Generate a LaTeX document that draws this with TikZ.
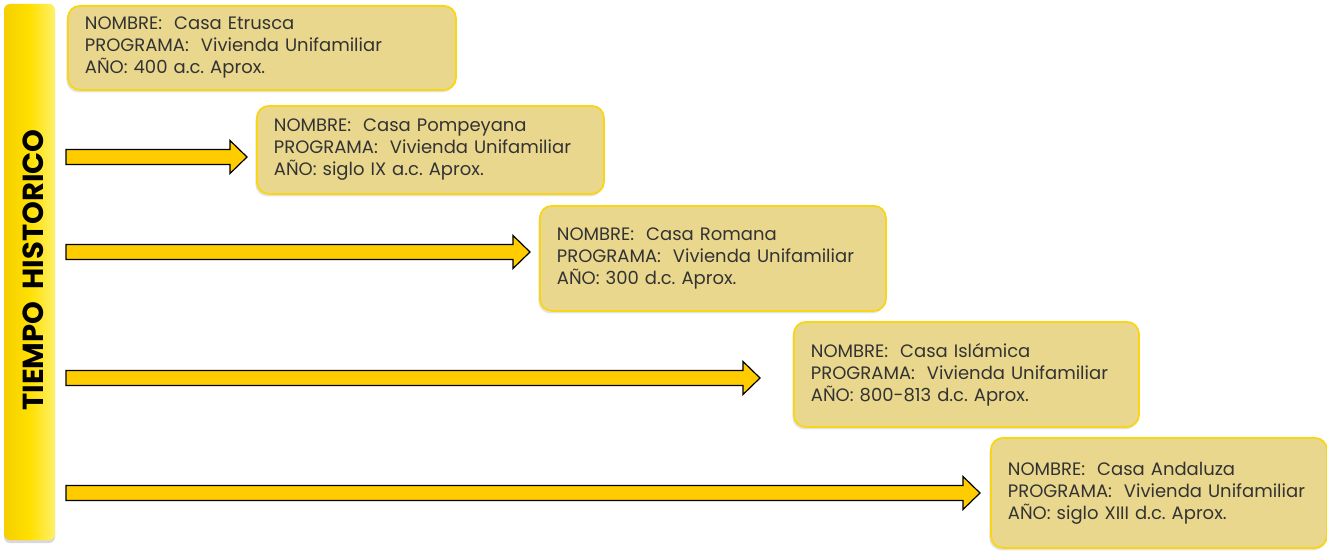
\documentclass[tikz,border=0pt]{standalone}
\usepackage{fontspec}
\setmainfont{Poppins}
\usetikzlibrary{calc,shadows}
\frenchspacing
\definecolor{boxfill}{HTML}{E9D78E}
\definecolor{boxline}{HTML}{F8D616}
\definecolor{arrfill}{HTML}{FFCC00}
\definecolor{txt}{HTML}{333333}
\definecolor{barL}{HTML}{F5CF00}
\definecolor{barM}{HTML}{FFE000}
\definecolor{barR}{HTML}{FFF06A}
\begin{document}
\begin{tikzpicture}[x=1pt,y=-1pt,
  infobox/.style={draw=boxline, line width=1.8pt, fill=boxfill, rounded corners=12pt,
    anchor=north west, align=left, inner xsep=17pt, inner ysep=0pt,
    font=\fontsize{18}{22}\selectfont, text=txt,
    drop shadow={opacity=0.22, shadow xshift=-1.5pt, shadow yshift=-2.5pt}},
  fatarrow/.style={draw=black, line width=1.2pt, fill=arrfill, line join=miter},
  timebar/.style={rounded corners=6pt, left color=barL, right color=barR, middle color=barM,
    drop shadow={opacity=0.3, shadow xshift=0pt, shadow yshift=-3pt}}
]
\useasboundingbox (0,0) rectangle (1327,551);
% time bar
\path[timebar] (4,4) rectangle (55,540);
\node[rotate=90, font=\fontsize{29}{32}\bfseries\selectfont, text=black] (tl) at (33,270) {TIEMPO\ \ HISTORICO};
% boxes
\node[infobox, text width=354pt, minimum height=84pt] (b1) at (67,5)
  {NOMBRE:\ \ Casa Etrusca\\PROGRAMA:\ \ Vivienda Unifamiliar\\AÑO: 400 a.c. Aprox.};
\node[infobox, text width=313pt, minimum height=88pt] (b2) at (256,105)
  {NOMBRE:\ \ Casa Pompeyana\\PROGRAMA:\ \ Vivienda Unifamiliar\\AÑO: siglo IX a.c. Aprox.};
\node[infobox, text width=312pt, minimum height=105pt] (b3) at (539,205)
  {NOMBRE:\ \ Casa Romana\\PROGRAMA:\ \ Vivienda Unifamiliar\\AÑO: 300 d.c. Aprox.};
\node[infobox, text width=311pt, minimum height=105pt] (b4) at (793,321)
  {NOMBRE:\ \ Casa Islámica\\PROGRAMA:\ \ Vivienda Unifamiliar\\AÑO: 800-813 d.c. Aprox.};
\node[infobox, text width=302pt, minimum height=110pt] (b5) at (990,437)
  {NOMBRE:\ \ Casa Andaluza\\PROGRAMA:\ \ Vivienda Unifamiliar\\AÑO: siglo XIII d.c. Aprox.};
% arrows
\newcommand{\fatarr}[2]{%
  \draw[fatarrow] ($(#1)+(0,-7.5)$) -- ($(#2)+(-17,-7.5)$) -- ($(#2)+(-17,-16.5)$) -- (#2)
    -- ($(#2)+(-17,16.5)$) -- ($(#2)+(-17,7.5)$) -- ($(#1)+(0,7.5)$) -- cycle;}
\coordinate (s1) at (66,157); \coordinate (t1) at ($(b2.west |- s1)+(-9,0)$);
\coordinate (s2) at (66,252); \coordinate (t2) at ($(b3.west |- s2)+(-9,0)$);
\coordinate (s3) at (66,378); \coordinate (t3) at ($(b4.west |- s3)+(-33,0)$);
\coordinate (s4) at (66,493); \coordinate (t4) at ($(b5.west |- s4)+(-10,0)$);
\fatarr{s1}{t1}
\fatarr{s2}{t2}
\fatarr{s3}{t3}
\fatarr{s4}{t4}
\end{tikzpicture}
\end{document}
